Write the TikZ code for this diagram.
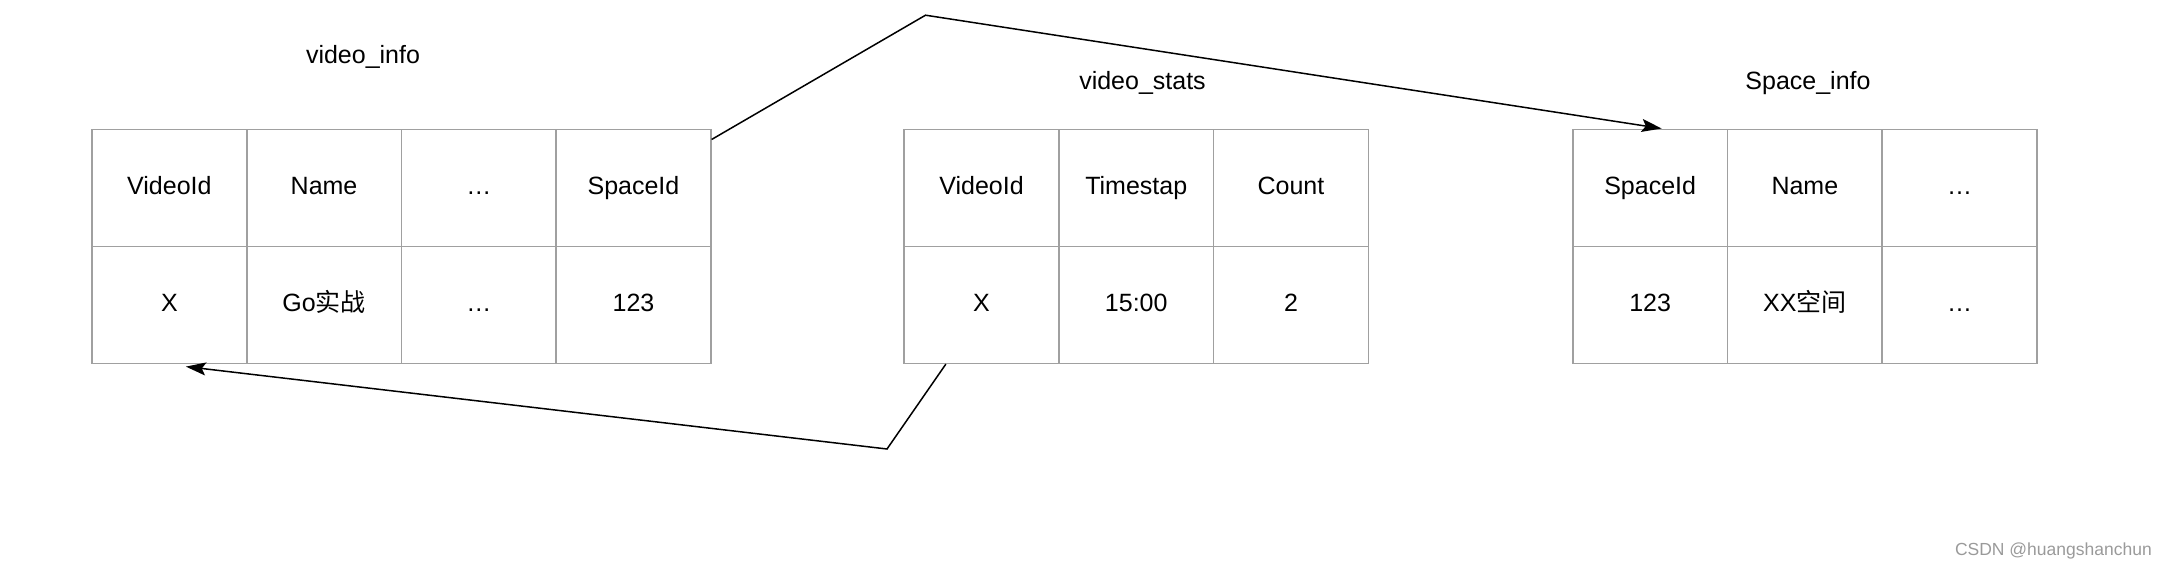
\documentclass[tikz,border=0pt]{standalone}
\usepackage{fontspec}
\setmainfont{Liberation Sans}
\newfontfamily\cjk{Noto Sans CJK SC}
\usetikzlibrary{arrows.meta,positioning}
\definecolor{cellgray}{HTML}{A0A0A0}
\definecolor{wmgray}{HTML}{9A9A9A}
\begin{document}
\begin{tikzpicture}[x=1pt,y=-1pt,
  cell/.style={draw=cellgray,line width=1.6pt,minimum width=154.7pt,minimum height=117pt,
    inner sep=0pt,text height=18pt,text depth=5pt,anchor=north west,font=\fontsize{25}{30}\selectfont},
  title/.style={font=\fontsize{25}{30}\selectfont,inner sep=0pt,text height=18pt,text depth=5pt},
  link/.style={draw=black,line width=1.5pt,-{Stealth[length=20pt,width=13pt,inset=4pt]}}
]
\useasboundingbox (0,0) rectangle (2166,570);
% ---- video_info
\node[title] (t1) at (363,56.6) {video\_info};
\node[cell] (a1) at (91.2,128.5) {VideoId};
\node[cell] (a2) at (245.9,128.5) {Name};
\node[cell] (a3) at (400.6,128.5) {\dots};
\node[cell] (a4) at (555.3,128.5) {SpaceId};
\node[cell] (b1) at (91.2,245.5) {X};
\node[cell] (b2) at (245.9,245.5) {Go{\cjk 实战}};
\node[cell] (b3) at (400.6,245.5) {\dots};
\node[cell] (b4) at (555.3,245.5) {123};
% ---- video_stats
\node[title] (t2) at (1142.5,83) {video\_stats};
\node[cell] (c1) at (903.4,128.5) {VideoId};
\node[cell] (c2) at (1058.1,128.5) {Timestap};
\node[cell] (c3) at (1212.8,128.5) {Count};
\node[cell] (d1) at (903.4,245.5) {X};
\node[cell] (d2) at (1058.1,245.5) {15:00};
\node[cell] (d3) at (1212.8,245.5) {2};
% ---- Space_info
\node[title] (t3) at (1808,83) {Space\_info};
\node[cell] (e1) at (1572,128.5) {SpaceId};
\node[cell] (e2) at (1726.7,128.5) {Name};
\node[cell] (e3) at (1881.4,128.5) {\dots};
\node[cell] (f1) at (1572,245.5) {123};
\node[cell] (f2) at (1726.7,245.5) {XX{\cjk 空间}};
\node[cell] (f3) at (1881.4,245.5) {\dots};
% ---- connectors
\coordinate (bendA) at (925.5,15.2);
\coordinate (bendB) at (887,449);
\draw[link] ([yshift=-11pt]a4.north east) -- (bendA) -- ([xshift=11.5pt]e1.north);
\draw[link] ([xshift=-35.7pt]d1.south) -- (bendB) -- ([xshift=16.5pt,yshift=-2.5pt]b1.south);
% ---- watermark
\node[font=\fontsize{17.5}{20}\selectfont,text=wmgray,anchor=east,inner sep=0pt] (wm) at (2152,551) {CSDN @huangshanchun};
\end{tikzpicture}
\end{document}
